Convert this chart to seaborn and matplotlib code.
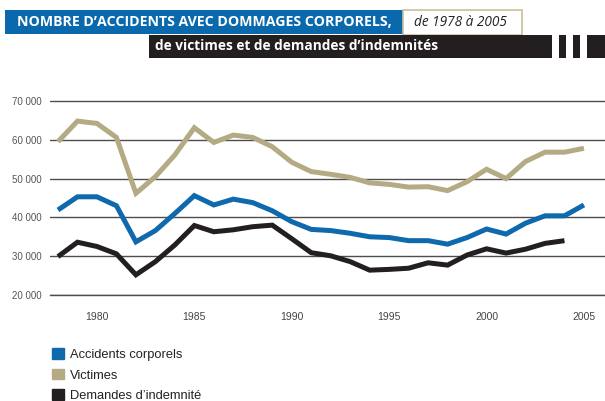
import matplotlib
matplotlib.use("Agg")
import matplotlib.pyplot as plt
from matplotlib.patches import Rectangle, Patch
from matplotlib.ticker import FuncFormatter, MultipleLocator
import numpy as np
import pandas as pd
import seaborn as sns

# -----------------------------------------------------------
# data
# -----------------------------------------------------------
years = list(range(1978, 2006))
accidents = [41900, 45300, 45300, 43000, 33700, 36600, 41000, 45600, 43200, 44700,
             43800, 41700, 38900, 36900, 36600, 35900, 35000, 34800, 34000, 34000,
             33100, 34800, 37000, 35700, 38500, 40400, 40400, 43200]
victimes = [59500, 64800, 64200, 60600, 46200, 50500, 56100, 63100, 59300, 61200,
            60600, 58200, 54200, 51800, 51100, 50300, 48900, 48500, 47800, 47900,
            46900, 49200, 52400, 50000, 54400, 56800, 56800, 57800]
demandes = [29900, 33600, 32500, 30600, 25200, 28600, 32900, 37900, 36300, 36800,
            37600, 38000, 34500, 30900, 30100, 28600, 26400, 26600, 26900, 28300,
            27700, 30300, 31900, 30800, 31800, 33300, 34000, np.nan]

series_names = ["Accidents corporels", "Victimes", "Demandes d\u2019indemnit\u00e9"]
series_colors = ["#0f69ad", "#b4ab84", "#231f20"]

df = pd.DataFrame({"annee": years,
                   series_names[0]: accidents,
                   series_names[1]: victimes,
                   series_names[2]: demandes})
long_df = df.melt(id_vars="annee", var_name="serie", value_name="nombre").dropna()

# -----------------------------------------------------------
# figure
# -----------------------------------------------------------
sns.set_style("white")
plt.rcParams["font.family"] = ["Liberation Sans Narrow", "Liberation Sans", "DejaVu Sans"]

W, H = 605, 401
fig = plt.figure(figsize=(W / 100, H / 100), dpi=100)
ax = fig.add_axes([50 / W, (H - 295) / H, (605 - 50) / W, (295 - 99) / H])

sns.lineplot(data=long_df, x="annee", y="nombre", hue="serie",
             palette=dict(zip(series_names, series_colors)),
             linewidth=3.6, legend=False, ax=ax)
for ln in ax.get_lines():
    ln.set_solid_joinstyle("miter")
    ln.set_solid_capstyle("butt")

ax.set_xlim(1977.59, 2006.08)
ax.set_ylim(20000, 70500)
ax.set_xlabel("")
ax.set_ylabel("")

# horizontal rules
ax.yaxis.set_major_locator(MultipleLocator(10000))
ax.grid(axis="y", color="#4d4d4d", linewidth=1.0)
ax.grid(axis="x", visible=False)
ax.set_axisbelow(True)
for s in ["top", "right", "left"]:
    ax.spines[s].set_visible(False)
ax.spines["bottom"].set_color("#4d4d4d")
ax.spines["bottom"].set_linewidth(1.0)

ax.yaxis.set_major_formatter(FuncFormatter(lambda v, p: f"{int(v):,}".replace(",", " ")))
ax.tick_params(axis="y", length=0, pad=6, labelsize=7, labelcolor="#555555")

ax.set_xticks([1980, 1985, 1990, 1995, 2000, 2005])
ax.set_xticks(years, minor=True)
ax.tick_params(axis="x", which="both", direction="out", length=6, width=1,
               color="#4d4d4d", labelsize=7.5, labelcolor="#444444", pad=6)
ax.tick_params(axis="x", which="minor", labelbottom=False)

# -----------------------------------------------------------
# header boxes
# -----------------------------------------------------------
def box(x0, y0, x1, y1, face, edge=None, lw=0):
    fig.add_artist(Rectangle((x0 / W, 1 - y1 / H), (x1 - x0) / W, (y1 - y0) / H,
                             transform=fig.transFigure, facecolor=face,
                             edgecolor=edge if edge else face, linewidth=lw))

box(5, 10, 403, 34, "#0a69ac")
box(403, 9.5, 522, 34.5, "white", "#c9c09a", 1.2)
box(149, 35, 552, 58, "#231f20")
box(559, 35, 566, 58, "#231f20")
box(573, 35, 580, 58, "#231f20")
box(587, 35, 605, 58, "#231f20")

title_font = ["Open Sans", "DejaVu Sans"]
fig.text(17 / W, 1 - 22.5 / H, "NOMBRE D\u2019ACCIDENTS AVEC DOMMAGES CORPORELS,",
         color="white", fontsize=10.2, fontweight="bold", va="center", ha="left",
         family=title_font)
fig.text(414 / W, 1 - 22 / H, "de 1978 \u00e0 2005", color="#222222", fontsize=9.8,
         style="italic", va="center", ha="left", family=title_font)
fig.text(155 / W, 1 - 46.5 / H, "de victimes et de demandes d\u2019indemnit\u00e9s",
         color="white", fontsize=9.8, fontweight="bold", va="center", ha="left",
         family=title_font)

# -----------------------------------------------------------
# legend
# -----------------------------------------------------------
handles = [Patch(facecolor=c, edgecolor=c) for c in series_colors]
fig.legend(handles, series_names, loc="upper left",
           bbox_to_anchor=(47 / W, 1 - 343 / H), frameon=False,
           fontsize=9.3, handlelength=0.9, handleheight=0.9,
           handletextpad=0.45, labelspacing=0.6, borderaxespad=0,
           labelcolor="#222222")

fig.savefig("out.png", dpi=100)
